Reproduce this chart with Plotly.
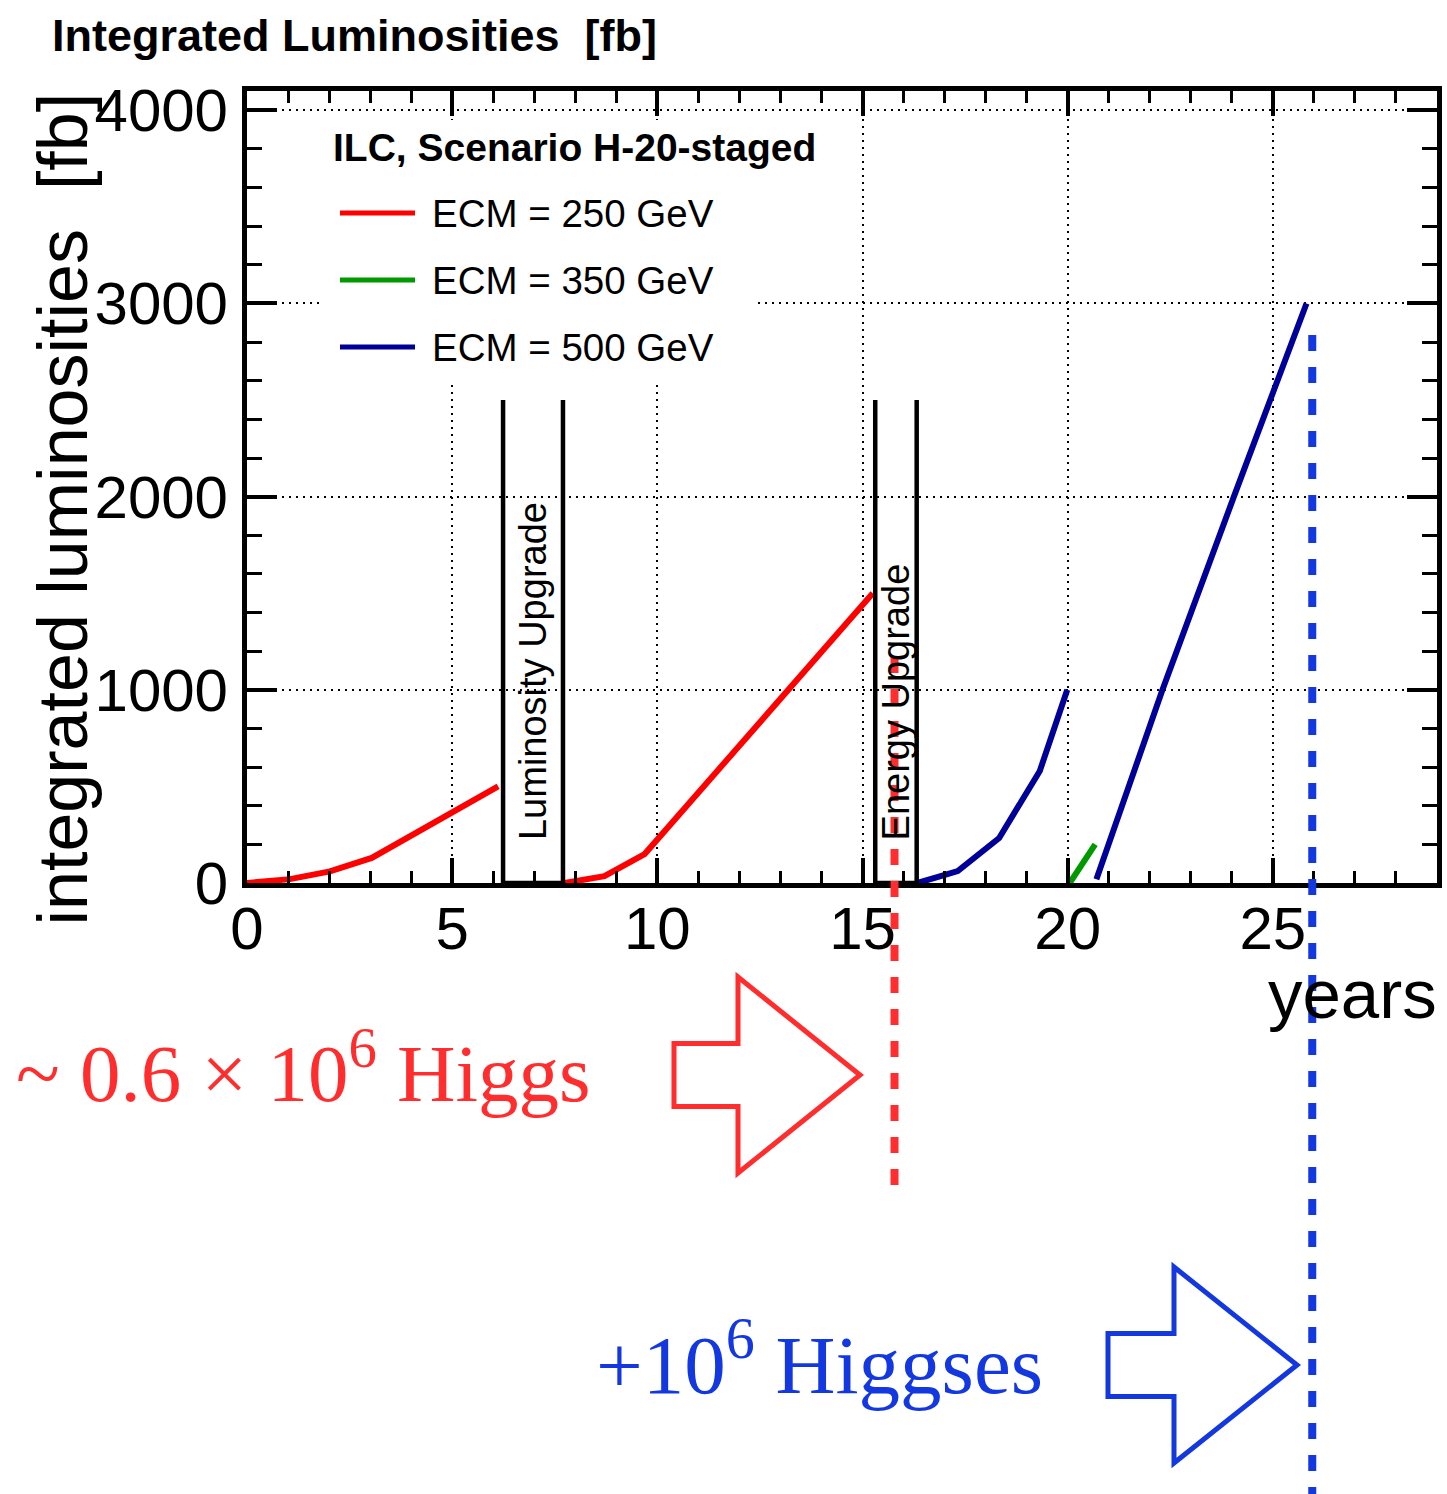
import plotly.graph_objects as go

W, H = 1447, 1494

# ---------------- data ----------------
years_250_a = [0.0, 1.05, 2.02, 3.04, 6.12]
lumi_250_a = [0, 20, 60, 130, 500]
years_250_b = [7.74, 8.71, 9.69, 15.25]
lumi_250_b = [0, 35, 150, 1500]
years_500_a = [16.34, 17.32, 18.33, 19.32, 19.99]
lumi_500_a = [0, 62, 233, 580, 1000]
years_350 = [20.05, 20.67]
lumi_350 = [0, 200]
years_500_b = [20.70, 22.31, 24.05, 25.82]
lumi_500_b = [20, 1000, 2000, 3000]

upgrade_labels = ["Luminosity Upgrade", "Energy Upgrade"]
upgrade_start = [6.24, 15.31]
upgrade_end = [7.70, 16.32]
upgrade_height = 2500

higgs_marker_years = [15.78, 25.96]
higgs_labels = ["~ 0.6 \u00d7 10<sup>6</sup> Higgs", "+10<sup>6</sup> Higgses"]

legend_labels = ["ECM = 250 GeV", "ECM = 350 GeV", "ECM = 500 GeV"]
x_ticks = [0, 5, 10, 15, 20, 25]
y_ticks = [0, 1000, 2000, 3000, 4000]

# ---------------- style ----------------
RED, GREEN, NAVY = "#FF0000", "#009900", "#000099"
RED_ANN, BLUE_ANN = "#FF2D2D", "#1438E0"
SANS = "Liberation Sans, Arial, Helvetica, sans-serif"
SERIF = "Liberation Serif, Times New Roman, serif"

# plot frame in pixels
L_PX, R_PX, T_PX, B_PX = 247, 1437, 91, 883
X_RANGE = [0, 29]
Y_RANGE = [0, 4100]


def px(x):
    return x / W


def py(y):
    return 1 - y / H


def dx(pix):
    return X_RANGE[0] + (pix - L_PX) * (X_RANGE[1] - X_RANGE[0]) / (R_PX - L_PX)


def dy(pix):
    return Y_RANGE[0] + (B_PX - pix) * (Y_RANGE[1] - Y_RANGE[0]) / (B_PX - T_PX)


fig = go.Figure()

series = [
    (years_250_a, lumi_250_a, RED),
    (years_250_b, lumi_250_b, RED),
    (years_500_a, lumi_500_a, NAVY),
    (years_350, lumi_350, GREEN),
    (years_500_b, lumi_500_b, NAVY),
]
for xs, ys, c in series:
    fig.add_trace(go.Scatter(x=xs, y=ys, mode="lines",
                             line=dict(color=c, width=6),
                             showlegend=False, hoverinfo="skip"))

shapes = []
annotations = []

# white legend box (covers grid)
shapes.append(dict(type="rect", xref="x", yref="y", layer="between",
                   x0=dx(321), x1=dx(757), y0=dy(383), y1=dy(120),
                   fillcolor="white", line=dict(width=0)))

# upgrade boxes
for lab, s, e in zip(upgrade_labels, upgrade_start, upgrade_end):
    for xv in (s, e):
        shapes.append(dict(type="line", xref="x", yref="y", x0=xv, x1=xv,
                           y0=0, y1=upgrade_height,
                           line=dict(color="black", width=4.5)))
    shapes.append(dict(type="line", xref="x", yref="y", x0=s, x1=e, y0=0, y1=0,
                       line=dict(color="black", width=4.5)))
    annotations.append(dict(text=lab, x=(s + e) / 2, y=py(842), xref="x", yref="paper",
                            textangle=-90, xanchor="center", yanchor="bottom",
                            showarrow=False, font=dict(family=SANS, size=38, color="black")))

# Higgs vertical dashed markers
shapes.append(dict(type="line", xref="x", yref="paper",
                   x0=higgs_marker_years[0], x1=higgs_marker_years[0],
                   y0=py(657), y1=py(1185),
                   line=dict(color=RED_ANN, width=8, dash="16px,16px")))
shapes.append(dict(type="line", xref="x", yref="paper",
                   x0=higgs_marker_years[1], x1=higgs_marker_years[1],
                   y0=py(335), y1=py(1494),
                   line=dict(color=BLUE_ANN, width=8, dash="16px,16px")))


def arrow_path(x0, xb, xt, yt, ym, yb, body_h):
    pts = [(x0, ym - body_h), (xb, ym - body_h), (xb, yt), (xt, ym),
           (xb, yb), (xb, ym + body_h), (x0, ym + body_h)]
    return "M " + " L ".join(f"{px(a):.5f},{py(b):.5f}" for a, b in pts) + " Z"


shapes.append(dict(type="path", xref="paper", yref="paper",
                   path=arrow_path(674, 738, 860, 977, 1075, 1173, 31.5),
                   line=dict(color=RED_ANN, width=5), fillcolor="rgba(0,0,0,0)"))
shapes.append(dict(type="path", xref="paper", yref="paper",
                   path=arrow_path(1108, 1174, 1297, 1267, 1365, 1463, 31.5),
                   line=dict(color=BLUE_ANN, width=5), fillcolor="rgba(0,0,0,0)"))

annotations.append(dict(text=higgs_labels[0], x=px(14), y=py(1067), xref="paper", yref="paper",
                        xanchor="left", yanchor="middle", showarrow=False,
                        font=dict(family=SERIF, size=81, color=RED_ANN)))
annotations.append(dict(text=higgs_labels[1], x=px(594), y=py(1358), xref="paper", yref="paper",
                        xanchor="left", yanchor="middle", showarrow=False,
                        font=dict(family=SERIF, size=83, color=BLUE_ANN)))

# legend (manual, ROOT style)
annotations.append(dict(text="<b>ILC, Scenario H-20-staged</b>", x=px(331), y=py(147),
                        xref="paper", yref="paper", xanchor="left", yanchor="middle",
                        showarrow=False, font=dict(family=SANS, size=39, color="black")))
for i, (lab, c) in enumerate(zip(legend_labels, [RED, GREEN, NAVY])):
    yc = 213 + 67 * i
    shapes.append(dict(type="line", xref="paper", yref="paper",
                       x0=px(340), x1=px(415), y0=py(yc), y1=py(yc),
                       line=dict(color=c, width=5)))
    annotations.append(dict(text=lab, x=px(430), y=py(yc), xref="paper", yref="paper",
                            xanchor="left", yanchor="middle", showarrow=False,
                            font=dict(family=SANS, size=38.5, color="black")))

# titles
annotations.append(dict(text="<b>Integrated Luminosities \u00a0[fb]</b>", x=px(50), y=py(36),
                        xref="paper", yref="paper", xanchor="left", yanchor="middle",
                        showarrow=False, font=dict(family=SANS, size=45, color="black")))
annotations.append(dict(text="integrated luminosities \u00a0[fb]", x=px(62), y=py(91),
                        xref="paper", yref="paper", xanchor="center", yanchor="top",
                        textangle=-90, showarrow=False,
                        font=dict(family=SANS, size=70, color="black")))
annotations.append(dict(text="years", x=px(1439), y=py(995), xref="paper", yref="paper",
                        xanchor="right", yanchor="middle", showarrow=False,
                        font=dict(family=SANS, size=69, color="black")))

axis_common = dict(showline=True, linewidth=5, linecolor="black", mirror="allticks",
                   ticks="inside", tickwidth=4, tickcolor="black",
                   showgrid=True, gridcolor="black", gridwidth=2, griddash="2px,5px",
                   zeroline=False, automargin=False,
                   tickfont=dict(family=SANS, size=60, color="black"))

fig.update_layout(
    width=W, height=H,
    margin=dict(l=0, r=0, t=0, b=0, pad=0, autoexpand=False),
    showlegend=False,
    paper_bgcolor="white", plot_bgcolor="white",
    xaxis=dict(range=X_RANGE, domain=[px(L_PX), px(R_PX)],
               tickvals=x_ticks, ticktext=[str(v) for v in x_ticks], ticklen=25,
               minor=dict(ticks="inside", ticklen=12, tickwidth=3, dtick=1, tick0=0,
                          tickcolor="black", showgrid=False),
               ticklabelstandoff=-11, **axis_common),
    yaxis=dict(range=Y_RANGE, domain=[py(B_PX), py(T_PX)],
               tickvals=y_ticks, ticktext=[str(v) for v in y_ticks], ticklen=30,
               minor=dict(ticks="inside", ticklen=15, tickwidth=3, dtick=200, tick0=0,
                          tickcolor="black", showgrid=False),
               ticklabelstandoff=2, **axis_common),
    shapes=shapes,
    annotations=annotations,
)

fig.write_html("out.html",
               post_script="document.body.style.margin='0';document.body.style.overflow='hidden';")
